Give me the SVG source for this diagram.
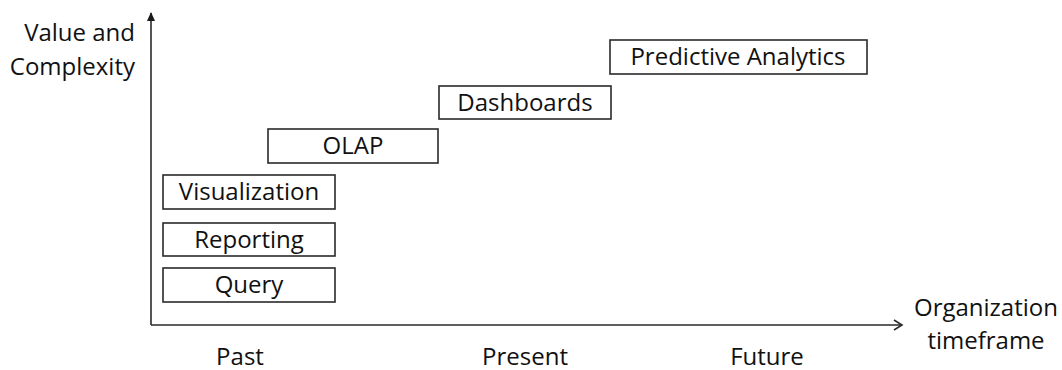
<svg xmlns="http://www.w3.org/2000/svg" width="1062" height="370" viewBox="0 0 1062 370">
<style>
.box{fill:#fff;stroke:#2a2a2a;stroke-width:1.6}
.t{font-family:"Open Sans","Liberation Sans",sans-serif;font-size:24px;fill:#111;text-anchor:middle}
.axis{stroke:#2a2a2a;stroke-width:1.6;fill:none}
</style>
<defs>
<marker id="tri" markerWidth="10" markerHeight="10" refX="8" refY="5" orient="auto" markerUnits="userSpaceOnUse">
<path d="M0,1 L9,5 L0,9 Z" fill="#1a1a1a"/>
</marker>
<marker id="chev" markerWidth="14" markerHeight="14" refX="11" refY="7" orient="auto" markerUnits="userSpaceOnUse">
<path d="M3,2 L11,7 L3,12" fill="none" stroke="#2a2a2a" stroke-width="1.6"/>
</marker>
</defs>
<g id="connectors">
<line class="axis" x1="151" y1="325" x2="151" y2="13" marker-end="url(#tri)"/>
<line class="axis" x1="151" y1="325" x2="902" y2="325" marker-end="url(#chev)"/>
</g>
<g id="ylabel">
<text class="t" x="135" y="41" style="text-anchor:end">Value and</text>
<text class="t" x="135" y="75" style="text-anchor:end">Complexity</text>
</g>
<g id="xlabel">
<text class="t" x="986" y="316">Organization</text>
<text class="t" x="986" y="349">timeframe</text>
</g>
<g id="ticks">
<text class="t" x="240" y="365">Past</text>
<text class="t" x="525" y="365">Present</text>
<text class="t" x="767" y="365">Future</text>
</g>
<g id="query"><rect class="box" x="163" y="268" width="172" height="34"/><text class="t" x="249" y="293">Query</text></g>
<g id="reporting"><rect class="box" x="163" y="223" width="172" height="33"/><text class="t" x="249" y="248">Reporting</text></g>
<g id="visualization"><rect class="box" x="163" y="175" width="172" height="34"/><text class="t" x="249" y="200">Visualization</text></g>
<g id="olap"><rect class="box" x="268" y="129" width="170" height="34"/><text class="t" x="353" y="154">OLAP</text></g>
<g id="dashboards"><rect class="box" x="439" y="86" width="172" height="33"/><text class="t" x="525" y="111">Dashboards</text></g>
<g id="predictive"><rect class="box" x="610" y="40" width="257" height="34"/><text class="t" x="738" y="65">Predictive Analytics</text></g>
</svg>
